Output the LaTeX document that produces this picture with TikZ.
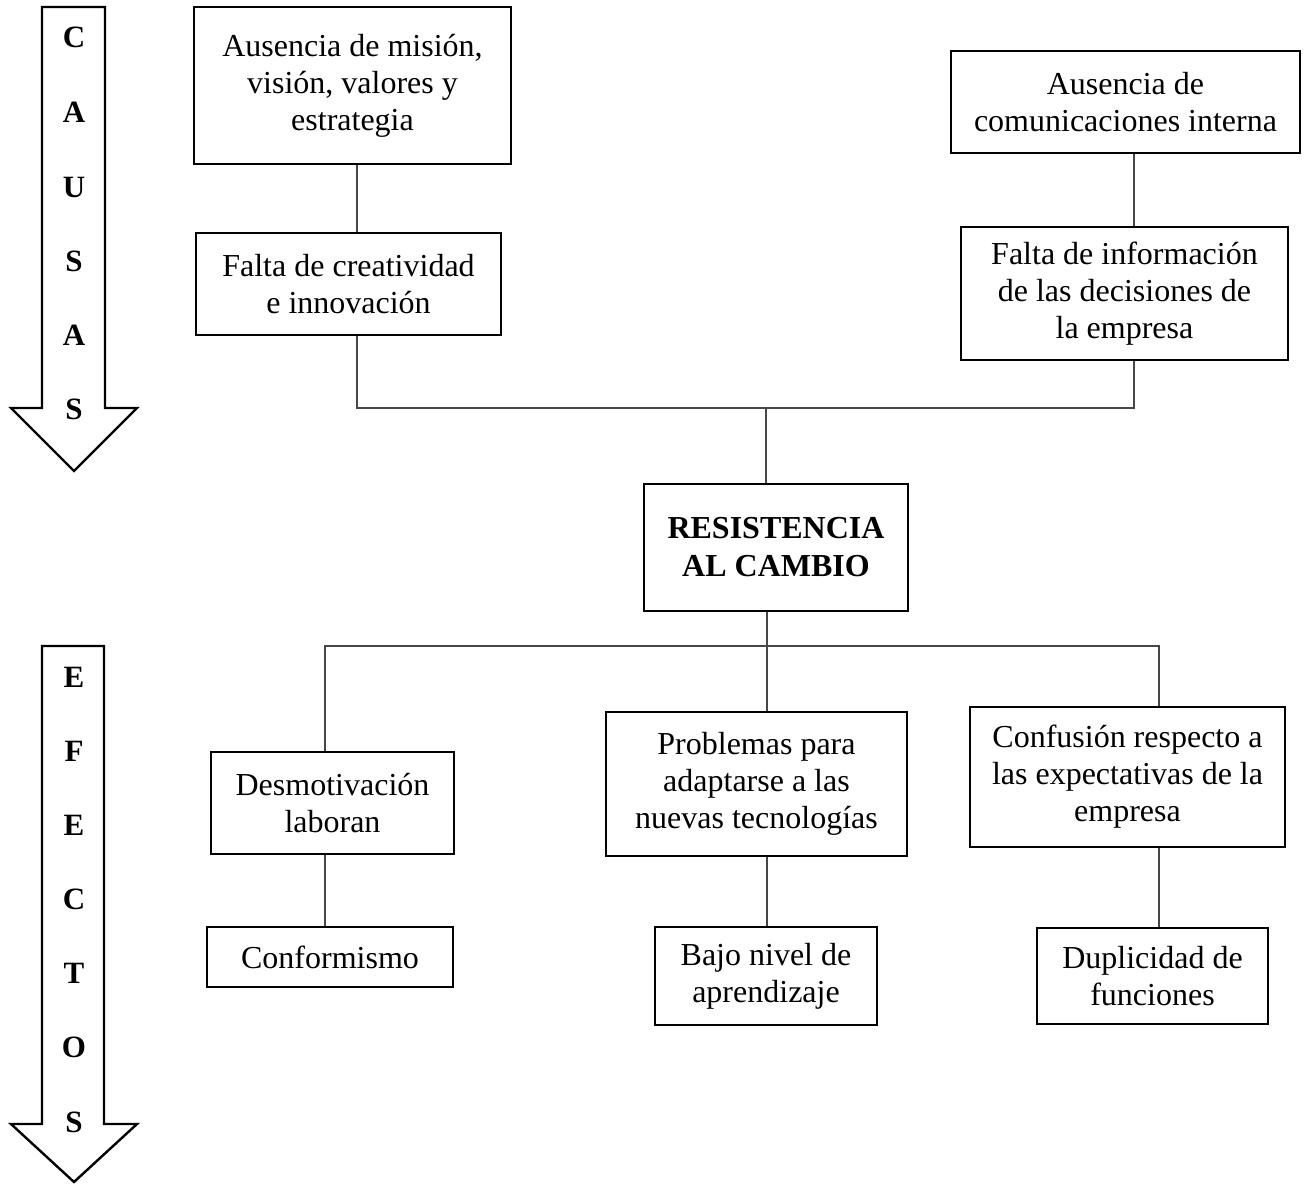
\documentclass[tikz,border=0pt]{standalone}
\usepackage{fontspec}
\setmainfont{Liberation Serif}
\begin{document}
\begin{tikzpicture}[x=1pt,y=-1pt,
  boxnode/.style={draw=black, line width=2.4pt, inner sep=0pt, align=center,
    font=\fontsize{32}{37}\selectfont},
  titlenode/.style={boxnode, font=\fontsize{32}{38}\selectfont\bfseries},
  letternode/.style={inner sep=0pt, font=\fontsize{31}{31}\selectfont\bfseries},
  conn/.style={draw=black!72, line width=1.5pt},
  bigarrow/.style={draw=black, line width=2.4pt, line join=miter, fill=white}]
\useasboundingbox (0,0) rectangle (1308,1184);

% ---- side arrows ----
\draw[bigarrow] (42,7) -- (105,7) -- (105,408) -- (137,408) -- (74,471) -- (11,408) -- (42,408) -- cycle;
\draw[bigarrow] (42,646) -- (104,646) -- (104,1124) -- (137,1124) -- (74,1182) -- (11,1124) -- (42,1124) -- cycle;

\node[letternode] (c1) at (74,37) {C};
\node[letternode] (c2) at (74,112) {A};
\node[letternode] (c3) at (74,187) {U};
\node[letternode] (c4) at (74,261) {S};
\node[letternode] (c5) at (74,335) {A};
\node[letternode] (c6) at (74,409) {S};

\node[letternode] (e1l) at (74,677) {E};
\node[letternode] (e2l) at (74,751) {F};
\node[letternode] (e3l) at (74,825) {E};
\node[letternode] (e4l) at (74,899) {C};
\node[letternode] (e5l) at (74,973) {T};
\node[letternode] (e6l) at (74,1047) {O};
\node[letternode] (e7l) at (74,1122) {S};

% ---- cause boxes ----
\node[boxnode, minimum width=317pt, minimum height=157pt] (b1) at (352.5,85.5)
  {Ausencia de misión,\\visión, valores y\\estrategia};
\node[boxnode, minimum width=349pt, minimum height=102pt] (b2) at (1125.5,102)
  {Ausencia de\\comunicaciones interna};
\node[boxnode, minimum width=305pt, minimum height=102pt] (b3) at (348.5,284)
  {Falta de creatividad\\e innovación};
\node[boxnode, minimum width=327pt, minimum height=133pt] (b4) at (1124.5,293.5)
  {Falta de información\\de las decisiones de\\la empresa};

% ---- central problem ----
\node[titlenode, minimum width=264pt, minimum height=127pt] (rc) at (776,547.5)
  {RESISTENCIA\\AL CAMBIO};

% ---- effect boxes ----
\node[boxnode, minimum width=243pt, minimum height=102pt] (d1) at (332.5,803)
  {Desmotivación\\laboran};
\node[boxnode, minimum width=301pt, minimum height=144pt] (d2) at (756.5,784)
  {Problemas para\\adaptarse a las\\nuevas tecnologías};
\node[boxnode, minimum width=315pt, minimum height=140pt] (d3) at (1127.5,777)
  {Confusión respecto a\\las expectativas de la\\empresa};
\node[boxnode, minimum width=246pt, minimum height=60pt] (f1) at (330,957)
  {Conformismo};
\node[boxnode, minimum width=222pt, minimum height=98pt] (f2) at (766,976)
  {Bajo nivel de\\aprendizaje};
\node[boxnode, minimum width=231pt, minimum height=96pt] (f3) at (1152.5,976)
  {Duplicidad de\\funciones};

% ---- junction coordinates ----
\coordinate (jl) at (357,408);
\coordinate (jr) at (1134,408);
\coordinate (jc) at (766,408);
\coordinate (kl) at (325,646);
\coordinate (kc) at (767,646);
\coordinate (kr) at (1159,646);

% ---- connectors (causes) ----
\draw[conn] (b1.south -| jl) -- (b3.north -| jl);
\draw[conn] (b2.south -| jr) -- (b4.north -| jr);
\draw[conn] (b3.south -| jl) -- (jl) -- (jr) -- (b4.south -| jr);
\draw[conn] (jc) -- (rc.north -| jc);

% ---- connectors (effects) ----
\draw[conn] (rc.south -| kc) -- (kc);
\draw[conn] (d1.north -| kl) -- (kl) -- (kr) -- (d3.north -| kr);
\draw[conn] (kc) -- (d2.north -| kc);
\draw[conn] (d1.south -| kl) -- (f1.north -| kl);
\draw[conn] (d2.south -| kc) -- (f2.north -| kc);
\draw[conn] (d3.south -| kr) -- (f3.north -| kr);
\end{tikzpicture}
\end{document}
